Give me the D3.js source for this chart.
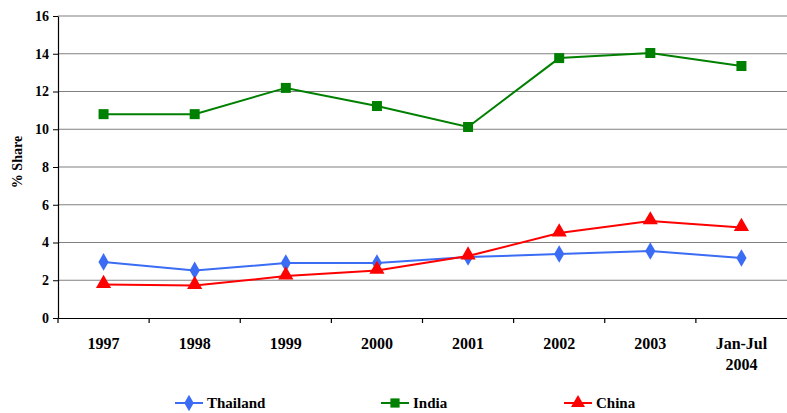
<!DOCTYPE html>
<html>
<head>
<script src="https://d3js.org/d3.v7.min.js"></script>
<style>
  body { margin: 0; background: #fff; }
</style>
</head>
<body>
<svg width="787" height="413" font-family="Liberation Serif" font-weight="bold"></svg>
<script>
// Data
var categories = ["1997", "1998", "1999", "2000", "2001", "2002", "2003", "Jan-Jul|2004"];
var thailand = [2.97, 2.52, 2.91, 2.91, 3.23, 3.39, 3.55, 3.18];
var india = [10.8, 10.8, 12.19, 11.23, 10.12, 13.77, 14.04, 13.35];
var china = [1.77, 1.72, 2.22, 2.52, 3.28, 4.5, 5.14, 4.79];
var yTicks = [0, 2, 4, 6, 8, 10, 12, 14, 16];

var series = [
  { name: "Thailand", values: thailand, color: "#3A6CF4", shape: d3.symbolDiamond, size: 90, legendX: 175 },
  { name: "India", values: india, color: "#008000", shape: d3.symbolSquare, size: 100, legendX: 381 },
  { name: "China", values: china, color: "#FF0000", shape: d3.symbolTriangle, size: 100, legendX: 564 }
];

var FONT = "Liberation Serif";
var svg = d3.select("svg");
var plotLeft = 58, plotRight = 787, plotTop = 16, plotBottom = 318;

var x = d3.scaleBand().domain(categories).range([plotLeft, plotRight]);
var y = d3.scaleLinear().domain([0, 16]).range([plotBottom, plotTop]);

// Gridlines
svg.append("g")
  .selectAll("line")
  .data(yTicks.filter(function(d) { return d > 0; }))
  .enter().append("line")
  .attr("x1", plotLeft).attr("x2", plotRight)
  .attr("y1", function(d) { return y(d); })
  .attr("y2", function(d) { return y(d); })
  .attr("stroke", "#808080")
  .attr("stroke-width", 1.2);

// Y axis
var yAxis = svg.append("g")
  .attr("transform", "translate(" + plotLeft + ",0)")
  .call(d3.axisLeft(y).tickValues(yTicks).tickSize(5).tickSizeOuter(0));
yAxis.attr("font-family", FONT).attr("font-weight", "bold");
yAxis.select(".domain").attr("stroke", "#000").attr("stroke-width", 1.2);
yAxis.selectAll(".tick line").attr("stroke", "#000");
yAxis.selectAll(".tick text")
  .attr("font-size", 14).attr("font-family", FONT).attr("font-weight", "bold")
  .attr("fill", "#000").attr("x", -9);

// X axis
var xAxis = svg.append("g")
  .attr("transform", "translate(0," + plotBottom + ")")
  .call(d3.axisBottom(x).tickSize(0).tickSizeOuter(0).tickFormat(""));
xAxis.select(".domain").attr("stroke", "#000").attr("stroke-width", 1.2);
xAxis.selectAll(".tick").remove();

// Category boundary ticks
svg.append("g")
  .selectAll("line")
  .data(categories)
  .enter().append("line")
  .attr("x1", function(d) { return x(d); })
  .attr("x2", function(d) { return x(d); })
  .attr("y1", plotBottom).attr("y2", plotBottom + 5)
  .attr("stroke", "#000").attr("stroke-width", 1.2);

// Category labels
svg.append("g")
  .selectAll("text")
  .data(categories)
  .enter().append("text")
  .attr("text-anchor", "middle")
  .attr("font-family", FONT).attr("font-weight", "bold")
  .attr("font-size", 16)
  .attr("fill", "#000")
  .each(function(d) {
    var parts = d.split("|");
    var t = d3.select(this);
    parts.forEach(function(p, i) {
      t.append("tspan")
        .attr("x", x(d) + x.bandwidth() / 2)
        .attr("y", 349 + i * 21)
        .text(p);
    });
  });

// Y axis title
svg.append("text")
  .attr("transform", "translate(22,162) rotate(-90)")
  .attr("text-anchor", "middle")
  .attr("font-family", FONT).attr("font-weight", "bold")
  .attr("font-size", 14)
  .attr("fill", "#000")
  .text("% Share");

// Lines and markers
var line = d3.line()
  .x(function(d, i) { return x(categories[i]) + x.bandwidth() / 2; })
  .y(function(d) { return y(d); });

series.forEach(function(s) {
  svg.append("path")
    .attr("d", line(s.values))
    .attr("fill", "none")
    .attr("stroke", s.color)
    .attr("stroke-width", 2);

  svg.append("g")
    .selectAll("path")
    .data(s.values)
    .enter().append("path")
    .attr("d", d3.symbol().type(s.shape).size(s.size))
    .attr("transform", function(d, i) {
      var dy = s.shape === d3.symbolTriangle ? -1 : 0;
      return "translate(" + (x(categories[i]) + x.bandwidth() / 2) + "," + (y(d) + dy) + ")";
    })
    .attr("fill", s.color);
});

// Legend
var legend = svg.append("g");
series.forEach(function(s) {
  var g = legend.append("g").attr("transform", "translate(" + s.legendX + ",403)");
  g.append("line").attr("x1", 0).attr("x2", 28).attr("y1", 0).attr("y2", 0)
    .attr("stroke", s.color).attr("stroke-width", 2);
  g.append("path")
    .attr("d", d3.symbol().type(s.shape).size(s.size * 0.85))
    .attr("transform", "translate(14,0)")
    .attr("fill", s.color);
  g.append("text")
    .attr("x", 32).attr("y", 5)
    .attr("font-family", FONT).attr("font-weight", "bold")
    .attr("font-size", 15)
    .attr("fill", "#000")
    .text(s.name);
});
</script>
</body>
</html>
